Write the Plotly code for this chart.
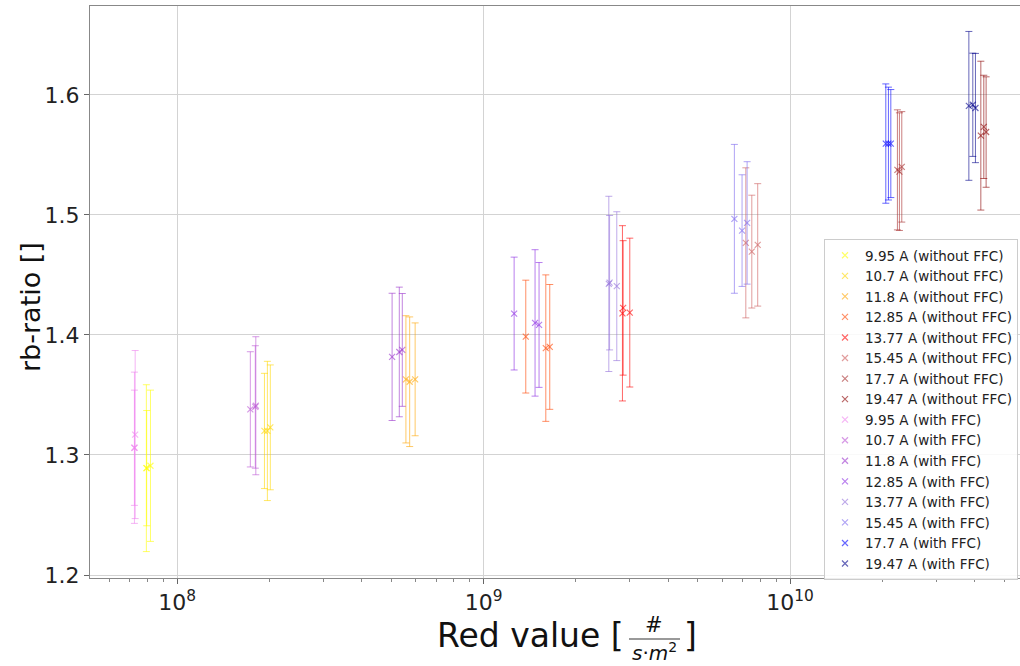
import plotly.graph_objects as go

# ---- measured rb-ratio vs. red value, three measurements per beam current ----
currents = ["9.95", "10.7", "11.8", "12.85", "13.77", "15.45", "17.7", "19.47"]

# without flat-field correction
x_raw = [
    [7.94e7, 8.19e7, 7.96e7],
    [1.928e8, 1.971e8, 2.015e8],
    [5.58e8, 5.74e8, 5.98e8],
    [1.373e9, 1.596e9, 1.644e9],
    [2.838e9, 2.853e9, 2.999e9],
    [7.17e9, 7.50e9, 7.84e9],
    [2.239e10, 2.273e10, 2.314e10],
    [4.19e10, 4.285e10, 4.36e10],
]
y_raw = [
    [1.289, 1.291, 1.289],
    [1.320, 1.320, 1.323],
    [1.363, 1.361, 1.363],
    [1.3986, 1.389, 1.390],
    [1.418, 1.4225, 1.4186],
    [1.4767, 1.4694, 1.475],
    [1.5375, 1.536, 1.540],
    [1.566, 1.5733, 1.569],
]
err_raw = [
    [0.0695, 0.063, 0.048],
    [0.048, 0.058, 0.052],
    [0.053, 0.054, 0.047],
    [0.047, 0.061, 0.052],
    [0.073, 0.056, 0.062],
    [0.0625, 0.047, 0.051],
    [0.050, 0.049, 0.046],
    [0.062, 0.043, 0.046],
]

# with flat-field correction
x_ffc = [
    [7.30e7, 7.26e7, 7.26e7],
    [1.734e8, 1.807e8, 1.800e8],
    [5.03e8, 5.31e8, 5.43e8],
    [1.258e9, 1.472e9, 1.517e9],
    [2.562e9, 2.577e9, 2.720e9],
    [6.58e9, 6.97e9, 7.24e9],
    [2.052e10, 2.093e10, 2.131e10],
    [3.83e10, 3.945e10, 4.024e10],
]
y_ffc = [
    [1.317, 1.306, 1.306],
    [1.338, 1.341, 1.340],
    [1.3817, 1.3858, 1.3875],
    [1.4178, 1.410, 1.4083],
    [1.4425, 1.4435, 1.4406],
    [1.4967, 1.4869, 1.4933],
    [1.5594, 1.5594, 1.5594],
    [1.5908, 1.5917, 1.589],
]
err_ffc = [
    [0.070, 0.063, 0.048],
    [0.048, 0.0575, 0.051],
    [0.053, 0.054, 0.047],
    [0.047, 0.061, 0.052],
    [0.073, 0.056, 0.062],
    [0.062, 0.0465, 0.051],
    [0.0497, 0.047, 0.045],
    [0.062, 0.043, 0.0455],
]

colors_raw = [(255, 255, 0), (255, 215, 0), (255, 165, 0), (255, 69, 0),
              (255, 0, 0), (205, 92, 92), (165, 42, 42), (139, 0, 0)]
colors_ffc = [(238, 130, 238), (186, 85, 211), (153, 50, 204), (138, 43, 226),
              (147, 112, 219), (123, 104, 238), (0, 0, 255), (0, 0, 139)]

ALPHA = 0.6


def rgba(c, a=ALPHA):
    return f"rgba({c[0]},{c[1]},{c[2]},{a})"


fig = go.Figure()


def add_series(xs, ys, es, col, name):
    fig.add_trace(go.Scatter(
        x=xs, y=ys, mode="markers", name=name,
        marker=dict(symbol="x-thin", size=6, color=rgba(col),
                    line=dict(width=1.2, color=rgba(col))),
        error_y=dict(type="data", array=es, visible=True,
                     color=rgba(col), thickness=1, width=3.5),
    ))


for i, cur in enumerate(currents):
    add_series(x_raw[i], y_raw[i], err_raw[i], colors_raw[i], f"{cur} A (without FFC)")
for i, cur in enumerate(currents):
    add_series(x_ffc[i], y_ffc[i], err_ffc[i], colors_ffc[i], f"{cur} A (with FFC)")

FONT = "DejaVu Sans"
L, R, T, B = 90, 0, 6, 88
W, H = 1020, 666
PW, PH = W - L - R, H - T - B


def px(x):
    return (x - L) / PW


def py(y):
    return (H - B - y) / PH


grid = "#d3d3d3"
fig.update_xaxes(
    type="log", range=[7.716, 10.75],
    tickvals=[1e8, 1e9, 1e10],
    ticktext=["10<sup>8</sup>", "10<sup>9</sup>", "10<sup>10</sup>"],
    tickfont=dict(family=FONT, size=22, color="#222"),
    ticks="outside", ticklen=5, tickcolor="#666",
    showgrid=True, gridcolor=grid, gridwidth=1,
    showline=True, linecolor="#888", linewidth=1, mirror=True,
    zeroline=False,
    minor=dict(
        tickvals=[m * 10 ** e for e in (7, 8, 9, 10) for m in range(2, 10)],
        ticks="outside", ticklen=3, tickcolor="#888", showgrid=False),
)
fig.update_yaxes(
    range=[1.1975, 1.674],
    tickvals=[1.2, 1.3, 1.4, 1.5, 1.6],
    ticktext=["1.2", "1.3", "1.4", "1.5", "1.6"],
    tickfont=dict(family=FONT, size=22, color="#222"),
    ticks="outside", ticklen=5, tickcolor="#666",
    showgrid=True, gridcolor=grid, gridwidth=1,
    showline=True, linecolor="#888", linewidth=1, mirror=True,
    zeroline=False,
)

annotations = [
    # y-axis title
    dict(text="rb-ratio []", x=px(30), y=py(307), xref="paper", yref="paper",
         textangle=-90, showarrow=False, xanchor="center", yanchor="middle",
         font=dict(family=FONT, size=27, color="#111")),
    # x-axis title built from pieces: Red value [ #/(s·m²) ]
    dict(text="Red value [", x=px(626), y=py(635), xref="paper", yref="paper",
         showarrow=False, xanchor="right", yanchor="middle",
         font=dict(family=FONT, size=33, color="#111")),
    dict(text="#", x=px(654), y=py(625), xref="paper", yref="paper",
         showarrow=False, xanchor="center", yanchor="middle",
         font=dict(family=FONT, size=21, color="#111")),
    dict(text="<i>s</i>·<i>m</i><sup>2</sup>", x=px(654), y=py(652), xref="paper", yref="paper",
         showarrow=False, xanchor="center", yanchor="middle",
         font=dict(family=FONT, size=20, color="#111")),
    dict(text="]", x=px(682), y=py(635), xref="paper", yref="paper",
         showarrow=False, xanchor="left", yanchor="middle",
         font=dict(family=FONT, size=33, color="#111")),
]

shapes = [
    dict(type="line", xref="paper", yref="paper",
         x0=px(629), x1=px(680), y0=py(639), y1=py(639),
         line=dict(color="#777", width=1.5)),
]

fig.update_layout(
    width=W, height=H,
    margin=dict(l=L, r=R, t=T, b=B, pad=0),
    paper_bgcolor="white", plot_bgcolor="white",
    font=dict(family=FONT, color="#222"),
    showlegend=True,
    legend=dict(
        x=px(824), y=py(239), xanchor="left", yanchor="top",
        bgcolor="rgba(255,255,255,0.85)", bordercolor="#cccccc", borderwidth=1,
        font=dict(family=FONT, size=13.5, color="#222"),
        tracegroupgap=0, itemsizing="trace",
    ),
    annotations=annotations,
    shapes=shapes,
)

fig.write_html("out.html")
